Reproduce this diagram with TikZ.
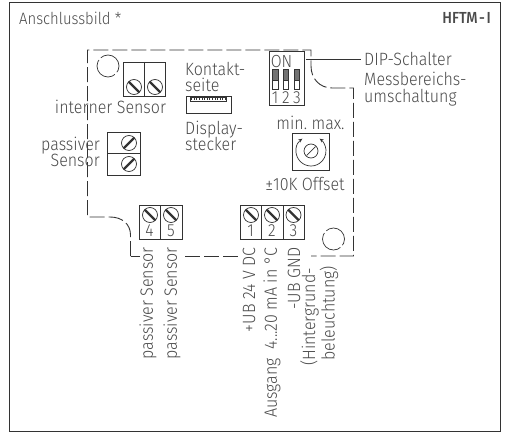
\documentclass[tikz,border=0pt]{standalone}
\usepackage{fontspec}
\setmainfont{Fira Sans Light}[BoldFont=Fira Sans Medium,FakeStretch=0.9]
\usetikzlibrary{calc,arrows.meta}
\definecolor{tx}{HTML}{4A4A4A}
\definecolor{ln}{HTML}{333333}
\tikzset{
 lab/.style={text=tx,font=\fontsize{17.8}{17}\selectfont,inner sep=0pt,align=center},
 labl/.style={lab,align=left,anchor=west},
 labr/.style={lab,align=right,anchor=east},
 vlab/.style={lab,rotate=90,anchor=east},
 num/.style={text=tx,font=\fontsize{17.5}{15}\selectfont,inner sep=0pt},
 bx/.style={draw=ln,line width=0.8pt},
 dash line/.style={draw=ln,line width=0.9pt,dash pattern=on 15pt off 4pt},
 thin line/.style={draw=ln,line width=0.7pt},
 hole/.style={thin line,dash pattern=on 31pt off 3pt,dash phase=6pt},
}
\newcommand{\screw}[2]{%
 \draw[ln,line width=0.7pt] (#1,#2) circle [radius=7.5pt];
 \draw[ln,line width=2.4pt] ($(#1,#2)+(-5.3,-5.3)$) -- ($(#1,#2)+(5.3,5.3)$);}
\newcommand{\screwb}[2]{%
 \draw[ln,line width=0.7pt] (#1,#2) circle [radius=7.5pt];
 \draw[ln,line width=2.4pt] ($(#1,#2)+(-5.3,5.3)$) -- ($(#1,#2)+(5.3,-5.3)$);}
\begin{document}
\begin{tikzpicture}[x=1pt,y=-1pt]
\useasboundingbox (0,0) rectangle (505,433);
\draw[ln,line width=1pt] (9.5,2.5) rectangle (500.5,431.5);
\node[labl,font=\fontsize{16.5}{16}\selectfont] (title) at (19,18) {Anschlussbild *};
\node[lab,anchor=east,font=\fontsize{16}{16}\selectfont\bfseries] (type) at (491,18) {HFTM\kern1.5pt-\kern1.5pt I};
% dashed outline
\draw[dash line] (130.5,256) -- (130.5,235) .. controls (130.5,224) and (122,217) .. (110,217) -- (87.5,217) -- (87.5,50) -- (311,50) -- (311,66) .. controls (311,79) and (320,88) .. (332,88) -- (353.5,88) -- (353.5,256) -- (311,256);
\draw[dash line] (130.5,256) -- (140,256);
\draw[dash line] (185,256) -- (238,256);
% circles
\draw[hole] (108,66) circle [radius=11pt];
\draw[hole] (333.5,239) circle [radius=11pt];
% internal sensor
\draw[bx] (123.5,62) rectangle (165.5,96);
\draw[bx] (144.5,62) -- (144.5,96);
\screw{134}{87}\screw{155}{87}
\node[lab] (intern) at (110.5,107) {interner Sensor};
% passive sensor
\draw[bx] (107,132) rectangle (140.5,175);
\draw[bx] (107,153.5) -- (140.5,153.5);
\screwb{129}{143}\screwb{129}{164}
\node[labr] (passiv) at (100,152) {passiver\\[-1pt]Sensor};
% display
\node[labl] (kontakt) at (185,76.5) {Kontakt-\\[-1pt]seite};
\draw[thin line] (186,96) rectangle (231,113);
\draw[ln,line width=0.6pt] (190,97) rectangle (226.5,101.5);
\foreach \i in {0,...,13} \draw[ln,line width=0.5pt] ({191.5+\i*2.6},97) -- ({191.5+\i*2.6},100.5);
\node[labl] (display) at (185,135.5) {Display-\\[-1pt]stecker};
% dip
\draw[bx] (269,51) rectangle (304,105);
\node[num] (on) at (281.5,61.5) {ON};
\foreach \x/\y/\n in {275.5/275/1,286/286/2,297/297/3} {
 \fill[black!55] (\x-2.8,69) rectangle (\x+2.8,80);
 \draw[ln,line width=0.8pt] (\x-2.8,69) rectangle (\x+2.8,89);
 \draw[ln,line width=0.8pt] (\x-2.8,80) -- (\x+2.8,80);
 \node[num] (d\n) at (\y,98) {\n};
}
\coordinate (dipout) at (306,59);
\node[labl] (dip) at (364,59) {DIP-Schalter};
\draw[thin line] (dipout) -- ([xshift=-3pt]dip.west);
\node[labl] (mess) at (364,89) {Messbereichs-\\umschaltung};
% pot
\node[lab] (minmax) at (310.5,123) {min.\ max.};
\draw[bx] (292.5,133) rectangle (329.5,170);
\draw[thin line,{Stealth[length=4pt,width=3.5pt]}-{Stealth[length=4pt,width=3.5pt]}] (311,151) ++(125:15pt) arc[start angle=125,end angle=415,radius=15pt];
\draw[thin line] (311,151) circle [radius=7pt];
\draw[thin line] (306.5,155.5) -- (315.5,146.5);
\node[lab] (offset) at (305,184) {±10K Offset};
% terminals 4 5
\draw[bx] (139.5,205.5) rectangle (182,239);
\draw[bx] (160.5,205.5) -- (160.5,239);
\screw{150}{215}\screw{171}{215}
\node[num] (t4) at (149.5,231) {4};
\node[num] (t5) at (171,231) {5};
% terminals 1 2 3
\draw[bx] (240,205.5) rectangle (304,239);
\draw[bx] (261.5,205.5) -- (261.5,239);
\draw[bx] (283,205.5) -- (283,239);
\screw{251}{215}\screw{272}{215}\screw{293.5}{215}
\node[num] (t1) at (250.5,231) {1};
\node[num] (t2) at (272,231) {2};
\node[num] (t3) at (293.5,231) {3};
% rotated labels
\node[vlab] (ps1) at (148,247) {passiver Sensor};
\node[vlab] (ps2) at (172,247) {passiver Sensor};
\node[vlab] (ub) at (249,247.5) {+UB 24 V DC};
\node[vlab] (aus) at (272,247.5) {Ausgang\ \ 4...20 mA in °C};
\node[vlab] (gnd) at (294,247.5) {-UB GND};
\node[vlab] (hg) at (309.5,268) {(Hintergrund-};
\node[vlab] (bel) at (329,266) {beleuchtung)};
\end{tikzpicture}
\end{document}
